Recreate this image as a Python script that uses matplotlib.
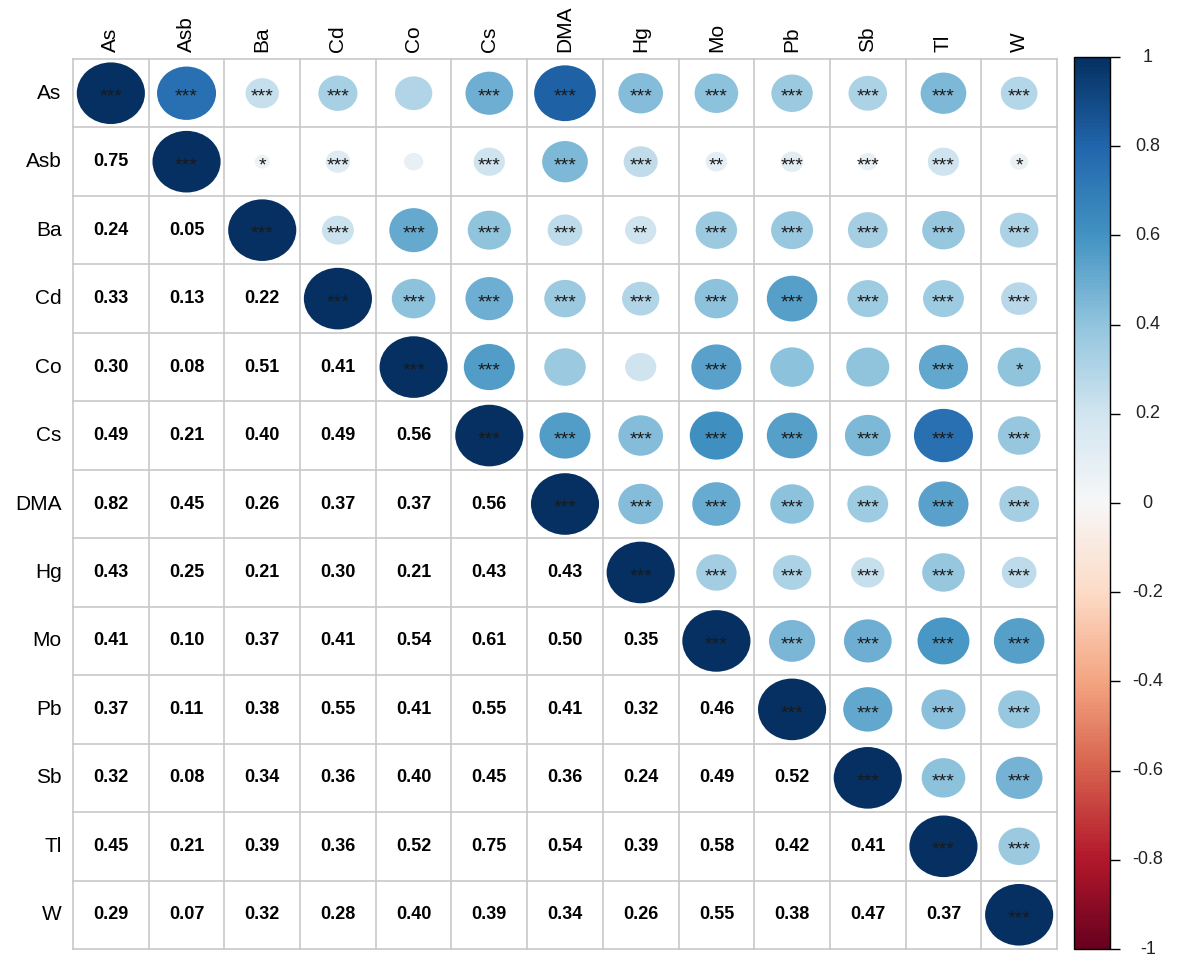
import matplotlib
matplotlib.use('Agg')
import matplotlib.pyplot as plt
from matplotlib.patches import Ellipse
import numpy as np

plt.rcParams['font.family'] = ['Liberation Sans', 'DejaVu Sans']

# Data - elements and lower triangle correlations
elements = ['As', 'Asb', 'Ba', 'Cd', 'Co', 'Cs', 'DMA', 'Hg', 'Mo', 'Pb', 'Sb', 'Tl', 'W']
lower = [
    [],
    [0.75],
    [0.24, 0.05],
    [0.33, 0.13, 0.22],
    [0.30, 0.08, 0.51, 0.41],
    [0.49, 0.21, 0.40, 0.49, 0.56],
    [0.82, 0.45, 0.26, 0.37, 0.37, 0.56],
    [0.43, 0.25, 0.21, 0.30, 0.21, 0.43, 0.43],
    [0.41, 0.10, 0.37, 0.41, 0.54, 0.61, 0.50, 0.35],
    [0.37, 0.11, 0.38, 0.55, 0.41, 0.55, 0.41, 0.32, 0.46],
    [0.32, 0.08, 0.34, 0.36, 0.40, 0.45, 0.36, 0.24, 0.49, 0.52],
    [0.45, 0.21, 0.39, 0.36, 0.52, 0.75, 0.54, 0.39, 0.58, 0.42, 0.41],
    [0.29, 0.07, 0.32, 0.28, 0.40, 0.39, 0.34, 0.26, 0.55, 0.38, 0.47, 0.37],
]
# significance stars, upper triangle incl. diagonal (row i, columns i..12)
stars = [
    ['***', '***', '***', '***', '', '***', '***', '***', '***', '***', '***', '***', '***'],
    ['***', '*', '***', '', '***', '***', '***', '**', '***', '***', '***', '*'],
    ['***', '***', '***', '***', '***', '**', '***', '***', '***', '***', '***'],
    ['***'] * 10,
    ['***', '***', '', '', '***', '', '', '***', '*'],
    ['***'] * 8,
    ['***'] * 7,
    ['***'] * 6,
    ['***'] * 5,
    ['***'] * 4,
    ['***'] * 3,
    ['***'] * 2,
    ['***'],
]
cbar_ticks = [-1, -0.8, -0.6, -0.4, -0.2, 0, 0.2, 0.4, 0.6, 0.8, 1]

n = len(elements)
corr = np.eye(n)
for i, row in enumerate(lower):
    for j, v in enumerate(row):
        corr[i, j] = v
        corr[j, i] = v

cmap = plt.get_cmap('RdBu')
norm = matplotlib.colors.Normalize(vmin=-1, vmax=1)

fig = plt.figure(figsize=(11.83, 9.57), dpi=100)
fig.patch.set_facecolor('white')
ax = fig.add_axes([73 / 1183, 1 - 949 / 957, 984 / 1183, 890 / 957])
ax.set_xlim(0, n)
ax.set_ylim(n, 0)
ax.axis('off')

# grid
grid_col = '#C8C8C8'
for k in range(n + 1):
    ax.plot([k, k], [0, n], color=grid_col, lw=1.2, zorder=1, clip_on=False)
    ax.plot([0, n], [k, k], color=grid_col, lw=1.2, zorder=1, clip_on=False)

# upper triangle: circles + stars, lower triangle: numbers
for i in range(n):
    for j in range(n):
        r = corr[i, j]
        if j >= i:
            s = 0.9 * np.sqrt(abs(r))
            ax.add_patch(Ellipse((j + 0.5, i + 0.5), s, s, facecolor=cmap(norm(r)),
                                 edgecolor='none', zorder=2))
            st = stars[i][j - i]
            if st:
                ax.text(j + 0.5, i + 0.56, st, ha='center', va='center', fontsize=14,
                        color='#1a1a1a', zorder=3)
        else:
            ax.text(j + 0.5, i + 0.5, f'{r:.2f}', ha='center', va='center', fontsize=13,
                    fontweight='bold', color='black', zorder=3)

# labels
for k, name in enumerate(elements):
    ax.text(-0.15, k + 0.5, name, ha='right', va='center', fontsize=15, color='black')
    ax.text(k + 0.5, -0.1, name, ha='center', va='bottom', rotation=90, fontsize=15,
            color='black')

# colorbar
cax = fig.add_axes([1074 / 1183, 1 - 949 / 957, 36 / 1183, 892 / 957])
sm = matplotlib.cm.ScalarMappable(norm=norm, cmap=cmap)
cb = fig.colorbar(sm, cax=cax)
cb.set_ticks(cbar_ticks)
cb.set_ticklabels([])
cb.outline.set_linewidth(1.0)
cax.tick_params(length=7, width=1, colors='black')
for t in cbar_ticks:
    cax.text(2.05, t, f'{t:g}', transform=cax.get_yaxis_transform(), ha='center',
             va='center', fontsize=13, color='#222222')

plt.savefig('out.png', dpi=100, facecolor='white')
